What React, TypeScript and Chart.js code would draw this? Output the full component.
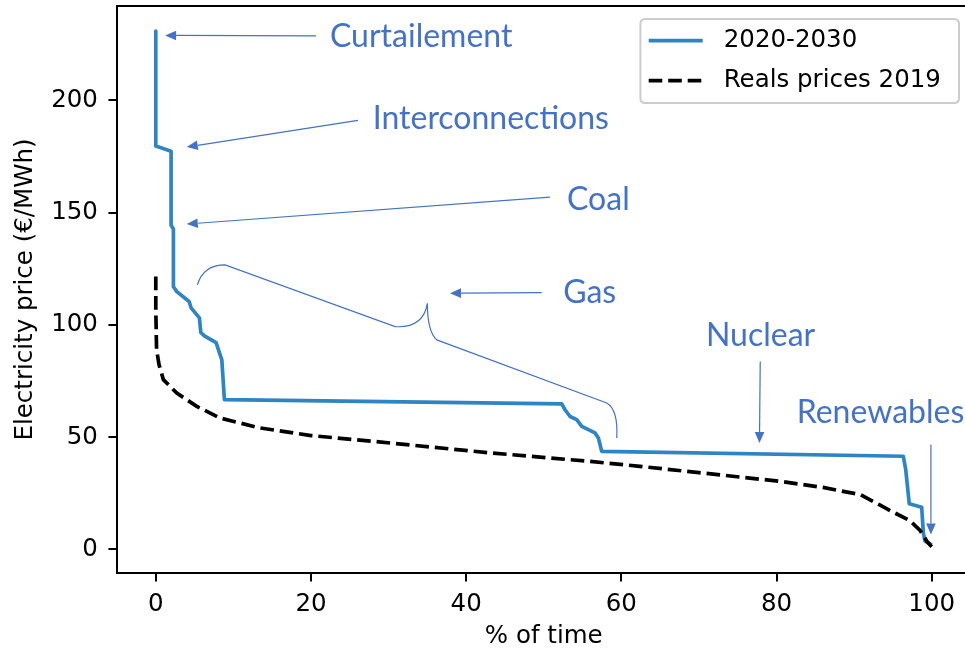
import React, { useEffect, useRef } from 'react';
import { Chart, registerables } from 'chart.js';

Chart.register(...registerables);

// ---- data ----
const SERIES_LABELS = ['2020-2030', 'Reals prices 2019'];

const SCEN_X = [0, 0, 1.97, 1.97, 2.27, 2.27, 2.71, 4.29, 4.55, 5.62, 5.8, 6.26, 7.77, 8.51, 8.84, 52.32, 52.74, 53.39, 54.25, 54.9, 56.6, 57.04, 57.47, 96.34, 96.65, 97.11, 98.71, 98.92, 99.14, 100];
const SCEN_Y = [230.8, 179.6, 177.3, 144.4, 142.7, 117.0, 114.8, 110.4, 107.6, 103.1, 96.6, 95.1, 92.1, 84.4, 66.7, 64.8, 62.2, 59.2, 57.8, 54.8, 51.9, 49.6, 43.7, 41.5, 35.6, 20.3, 18.8, 7.4, 3.7, 2.0];

const REAL_X = [0, 0, 0.1, 0.42, 0.98, 2.71, 5.28, 8.29, 13.4, 20, 30.2, 43.1, 56.0, 62.4, 70, 80.5, 86, 90.8, 93.3, 95.2, 97.2, 98.5, 99.4, 100];
const REAL_Y = [121.5, 106.7, 88.9, 82.2, 75.6, 69.6, 63.7, 58.5, 54.1, 50.7, 47.4, 43.0, 39.2, 37.0, 34.2, 30.3, 27.6, 24.4, 19.8, 16.3, 12.8, 8.5, 3.5, 1.2];

const X_TICKS = [0, 20, 40, 60, 80, 100];
const Y_TICKS = [0, 50, 100, 150, 200];

// annotations (data coordinates)
const NOTE_TEXT = ['Curtailement', 'Interconnections', 'Coal', 'Gas', 'Nuclear', 'Renewables'];
const NOTE_X = [22.45, 27.96, 53.0, 52.5, 70.9, 82.6];
const NOTE_Y = [223.7, 187.4, 151.1, 109.6, 90.7, 56.3];
const ARROW_X0 = [20.66, 26.06, 50.8, 49.74, 77.9, 99.9];
const ARROW_Y0 = [228.7, 191.1, 156.9, 114.4, 83.7, 46.7];
const ARROW_X1 = [1.2, 3.99, 3.99, 37.92, 77.8, 99.9];
const ARROW_Y1 = [228.9, 179.2, 144.9, 114.1, 47.4, 6.7];
// curly brace around the gas section: [cmd, ...points]
const BRACE: (string | number)[][] = [
  ['M', 5.36, 117.8],
  ['Q', 6.13, 126.7, 8.93, 126.7],
  ['L', 30.84, 99.2],
  ['Q', 34.48, 98.5, 35.0, 109.6],
  ['Q', 35.0, 97.0, 36.21, 93.3],
  ['L', 58.12, 65.2],
  ['Q', 59.61, 62.2, 59.41, 49.6],
];

const BLUE = '#2f84c2';
const NOTE_COLOR = '#4472C4';
const FONT = 'DejaVu Sans';
const FS = 24.5;

const framePlugin = {
  id: 'frame',
  afterDatasetsDraw(chart: any) {
    const { ctx, chartArea: a } = chart;
    ctx.save();
    ctx.strokeStyle = '#000';
    ctx.lineWidth = 2;
    ctx.strokeRect(a.left, a.top, a.right - a.left, a.bottom - a.top);
    ctx.restore();
  },
};

const notesPlugin = {
  id: 'notes',
  afterDatasetsDraw(chart: any) {
    const { ctx } = chart;
    const xs = chart.scales.x;
    const ys = chart.scales.y;
    const px = (v: number) => xs.getPixelForValue(v);
    const py = (v: number) => ys.getPixelForValue(v);
    ctx.save();
    ctx.strokeStyle = NOTE_COLOR;
    ctx.fillStyle = NOTE_COLOR;
    ctx.lineWidth = 1.2;
    for (let i = 0; i < ARROW_X0.length; i++) {
      const x0 = px(ARROW_X0[i]), y0 = py(ARROW_Y0[i]);
      const x1 = px(ARROW_X1[i]), y1 = py(ARROW_Y1[i]);
      const ang = Math.atan2(y1 - y0, x1 - x0);
      const L = 11, W = 4.8;
      const bx = x1 - L * Math.cos(ang), by = y1 - L * Math.sin(ang);
      ctx.beginPath();
      ctx.moveTo(x0, y0);
      ctx.lineTo(bx, by);
      ctx.stroke();
      ctx.beginPath();
      ctx.moveTo(x1, y1);
      ctx.lineTo(bx + W * Math.sin(ang), by - W * Math.cos(ang));
      ctx.lineTo(bx - W * Math.sin(ang), by + W * Math.cos(ang));
      ctx.closePath();
      ctx.fill();
    }
    ctx.beginPath();
    for (const seg of BRACE) {
      const c = seg[0];
      const n = seg.slice(1) as number[];
      if (c === 'M') ctx.moveTo(px(n[0]), py(n[1]));
      else if (c === 'L') ctx.lineTo(px(n[0]), py(n[1]));
      else if (c === 'Q') ctx.quadraticCurveTo(px(n[0]), py(n[1]), px(n[2]), py(n[3]));
    }
    ctx.stroke();
    ctx.font = '32px Lato';
    ctx.textBaseline = 'alphabetic';
    ctx.textAlign = 'left';
    for (let i = 0; i < NOTE_TEXT.length; i++) {
      ctx.fillText(NOTE_TEXT[i], px(NOTE_X[i]), py(NOTE_Y[i]));
    }
    ctx.restore();
  },
};

const legendPlugin = {
  id: 'mplLegend',
  afterDraw(chart: any) {
    const { ctx, chartArea: a } = chart;
    const right = a.right - 11.5;
    const top = a.top + 13;
    const w = 318.6, h = 84, r = 5;
    const left = right - w;
    ctx.save();
    ctx.beginPath();
    ctx.moveTo(left + r, top);
    ctx.lineTo(right - r, top);
    ctx.quadraticCurveTo(right, top, right, top + r);
    ctx.lineTo(right, top + h - r);
    ctx.quadraticCurveTo(right, top + h, right - r, top + h);
    ctx.lineTo(left + r, top + h);
    ctx.quadraticCurveTo(left, top + h, left, top + h - r);
    ctx.lineTo(left, top + r);
    ctx.quadraticCurveTo(left, top, left + r, top);
    ctx.closePath();
    ctx.fillStyle = 'rgba(255,255,255,0.8)';
    ctx.fill();
    ctx.strokeStyle = '#cccccc';
    ctx.lineWidth = 2;
    ctx.stroke();
    chart.data.datasets.forEach((ds: any) => {
      const idx = SERIES_LABELS.indexOf(ds.label);
      const cy = top + 21.7 + idx * 40;
      ctx.beginPath();
      ctx.setLineDash(ds.borderDash || []);
      ctx.lineWidth = ds.borderWidth;
      ctx.strokeStyle = ds.borderColor;
      ctx.moveTo(left + 8.3, cy);
      ctx.lineTo(left + 62.3, cy);
      ctx.stroke();
      ctx.setLineDash([]);
      ctx.fillStyle = '#000';
      ctx.font = `${FS}px "${FONT}"`;
      ctx.textBaseline = 'middle';
      ctx.textAlign = 'left';
      ctx.fillText(ds.label, left + 83.3, cy);
    });
    ctx.restore();
  },
};

export default function App() {
  const ref = useRef<HTMLCanvasElement>(null);
  useEffect(() => {
    if (!ref.current) return;
    const chart = new Chart(ref.current, {
      type: 'line',
      data: {
        datasets: [
          {
            label: SERIES_LABELS[0],
            data: SCEN_X.map((x, i) => ({ x, y: SCEN_Y[i] })),
            borderColor: BLUE,
            borderWidth: 3.7,
            pointRadius: 0,
            tension: 0,
            borderJoinStyle: 'round',
            order: 1,
          },
          {
            label: SERIES_LABELS[1],
            data: REAL_X.map((x, i) => ({ x, y: REAL_Y[i] })),
            borderColor: '#000',
            borderWidth: 3.7,
            borderDash: [13.6, 5.9],
            pointRadius: 0,
            tension: 0,
            order: 0,
          },
        ],
      },
      options: {
        animation: false,
        responsive: false,
        maintainAspectRatio: false,
        layout: { padding: { left: 0, top: 6, right: 9.5, bottom: 0 } },
        plugins: { legend: { display: false }, tooltip: { enabled: false } },
        scales: {
          x: {
            type: 'linear',
            min: -5,
            max: 105,
            afterBuildTicks: (s: any) => {
              s.ticks = X_TICKS.map((v) => ({ value: v }));
            },
            afterFit: (s: any) => {
              s.height = 80;
              s.paddingLeft = 0;
              s.paddingRight = 0;
            },
            grid: { drawOnChartArea: false, drawTicks: true, tickLength: 8.6, color: '#000', lineWidth: 2 },
            border: { display: true, color: '#000', width: 2 },
            ticks: {
              color: '#000',
              font: { family: FONT, size: FS },
              padding: 8,
              maxRotation: 0,
              autoSkip: false,
              callback: (v: any) => String(v),
            },
            title: {
              display: true,
              text: '% of time',
              color: '#000',
              font: { family: FONT, size: FS },
              padding: { top: 0, bottom: 2 },
            },
          },
          y: {
            type: 'linear',
            min: -10.5,
            max: 242,
            afterBuildTicks: (s: any) => {
              s.ticks = Y_TICKS.map((v) => ({ value: v }));
            },
            afterFit: (s: any) => {
              s.width = 117;
              s.paddingTop = 0;
              s.paddingBottom = 0;
            },
            grid: { drawOnChartArea: false, drawTicks: true, tickLength: 8.6, color: '#000', lineWidth: 2 },
            border: { display: true, color: '#000', width: 2 },
            ticks: {
              color: '#000',
              font: { family: FONT, size: FS },
              padding: 10.5,
              autoSkip: false,
              callback: (v: any) => String(v),
            },
            title: {
              display: true,
              text: 'Electricity price (€/MWh)',
              color: '#000',
              font: { family: FONT, size: FS },
              padding: { top: 11, bottom: 0 },
            },
          },
        },
      },
      plugins: [framePlugin, notesPlugin, legendPlugin],
    } as any);
    return () => chart.destroy();
  }, []);
  return (
    <div style={{ position: 'fixed', left: 0, top: 0, width: 965, height: 653, overflow: 'hidden', background: '#fff' }}>
      <canvas ref={ref} width={980} height={653} style={{ display: 'block', width: 980, height: 653 }} />
    </div>
  );
}
